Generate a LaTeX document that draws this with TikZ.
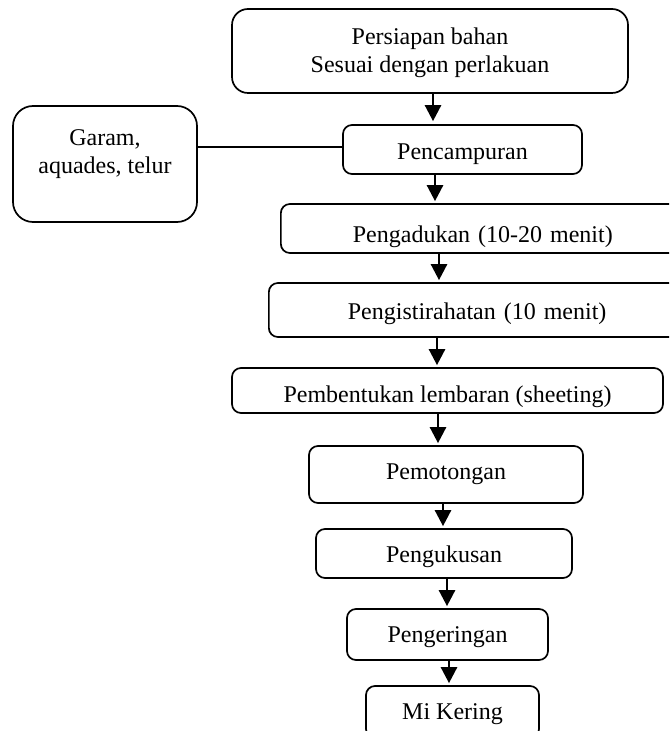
\documentclass[tikz,border=0pt]{standalone}
\usepackage{fontspec}
\setmainfont{Liberation Serif}
\usetikzlibrary{arrows.meta}
\begin{document}
\begin{tikzpicture}[x=0.5pt,y=-0.5pt,
  box/.style={draw, line width=0.85pt, rounded corners=4.5pt, inner sep=0pt,
    font=\fontsize{12pt}{14pt}\selectfont, align=center},
  txt/.style={inner sep=0pt, font=\fontsize{12pt}{14pt}\selectfont, align=center},
  low/.style={text height=#1, text depth=0pt},
  arr/.style={line width=1.3pt, -{Triangle[width=8pt,length=8pt]}},
  lnk/.style={line width=0.85pt}]
\useasboundingbox (0,0) rectangle (669,731);
\clip (0,0) rectangle (669,731);
% boxes
\node[box, rounded corners=8pt, minimum width=198pt, minimum height=42pt] (persiapan) at (430,51) {};
\node[txt] (persiapantxt) at (430,52.5) {Persiapan bahan\\Sesuai dengan perlakuan};
\node[box, rounded corners=10pt, minimum width=92pt, minimum height=58pt] (garam) at (105,164) {};
\node[txt] (garamtxt) at (105,154) {Garam,\\aquades, telur};
\node[box, low=10.5pt, minimum width=119.5pt, minimum height=24.5pt] (pencampuran) at (462.5,149.5) {Pencampuran};
\node[box, low=14pt, anchor=west, minimum height=24.5pt, inner xsep=36pt, text width=148pt, align=left]
  (pengadukan) at (280,228.5) {Pengadukan (10-20 menit)};
\node[box, low=9.5pt, anchor=west, minimum height=27pt, inner xsep=39.5pt, text width=140pt, align=left]
  (pengistirahatan) at (268,310) {Pengistirahatan (10 menit)};
\node[box, low=11.5pt, minimum width=215.5pt, minimum height=22.5pt] (pembentukan) at (447.5,390.5)
  {Pembentukan lembaran (sheeting)};
\node[box, minimum width=137pt, minimum height=28.5pt] (pemotongan) at (446,474.5) {Pemotongan};
\node[box, low=8.5pt, minimum width=128pt, minimum height=24.5pt] (pengukusan) at (444,553.5) {Pengukusan};
\node[box, low=8pt, minimum width=100.5pt, minimum height=25.5pt] (pengeringan) at (447.5,634.5) {Pengeringan};
\node[box, low=7.5pt, minimum width=86.5pt, minimum height=26pt] (mikering) at (452.5,712) {Mi Kering};
% arrow positions
\coordinate (c1) at (433,0);
\coordinate (c2) at (435,0);
\coordinate (c3) at (439,0);
\coordinate (c4) at (437,0);
\coordinate (c5) at (438,0);
\coordinate (c6) at (443,0);
\coordinate (c7) at (447,0);
\coordinate (c8) at (449,0);
\coordinate (ln) at (0,147);
% connectors
\draw[lnk] (garam.east |- ln) -- (pencampuran.west |- ln);
\draw[arr] (persiapan.south -| c1) -- ([yshift=1.5pt]pencampuran.north -| c1);
\draw[arr] (pencampuran.south -| c2) -- ([yshift=1pt]pengadukan.north -| c2);
\draw[arr] (pengadukan.south -| c3) -- ([yshift=1pt]pengistirahatan.north -| c3);
\draw[arr] (pengistirahatan.south -| c4) -- ([yshift=1pt]pembentukan.north -| c4);
\draw[arr] (pembentukan.south -| c5) -- ([yshift=1pt]pemotongan.north -| c5);
\draw[arr] (pemotongan.south -| c6) -- ([yshift=1pt]pengukusan.north -| c6);
\draw[arr] (pengukusan.south -| c7) -- ([yshift=1pt]pengeringan.north -| c7);
\draw[arr] (pengeringan.south -| c8) -- ([yshift=1pt]mikering.north -| c8);
\end{tikzpicture}
\end{document}
